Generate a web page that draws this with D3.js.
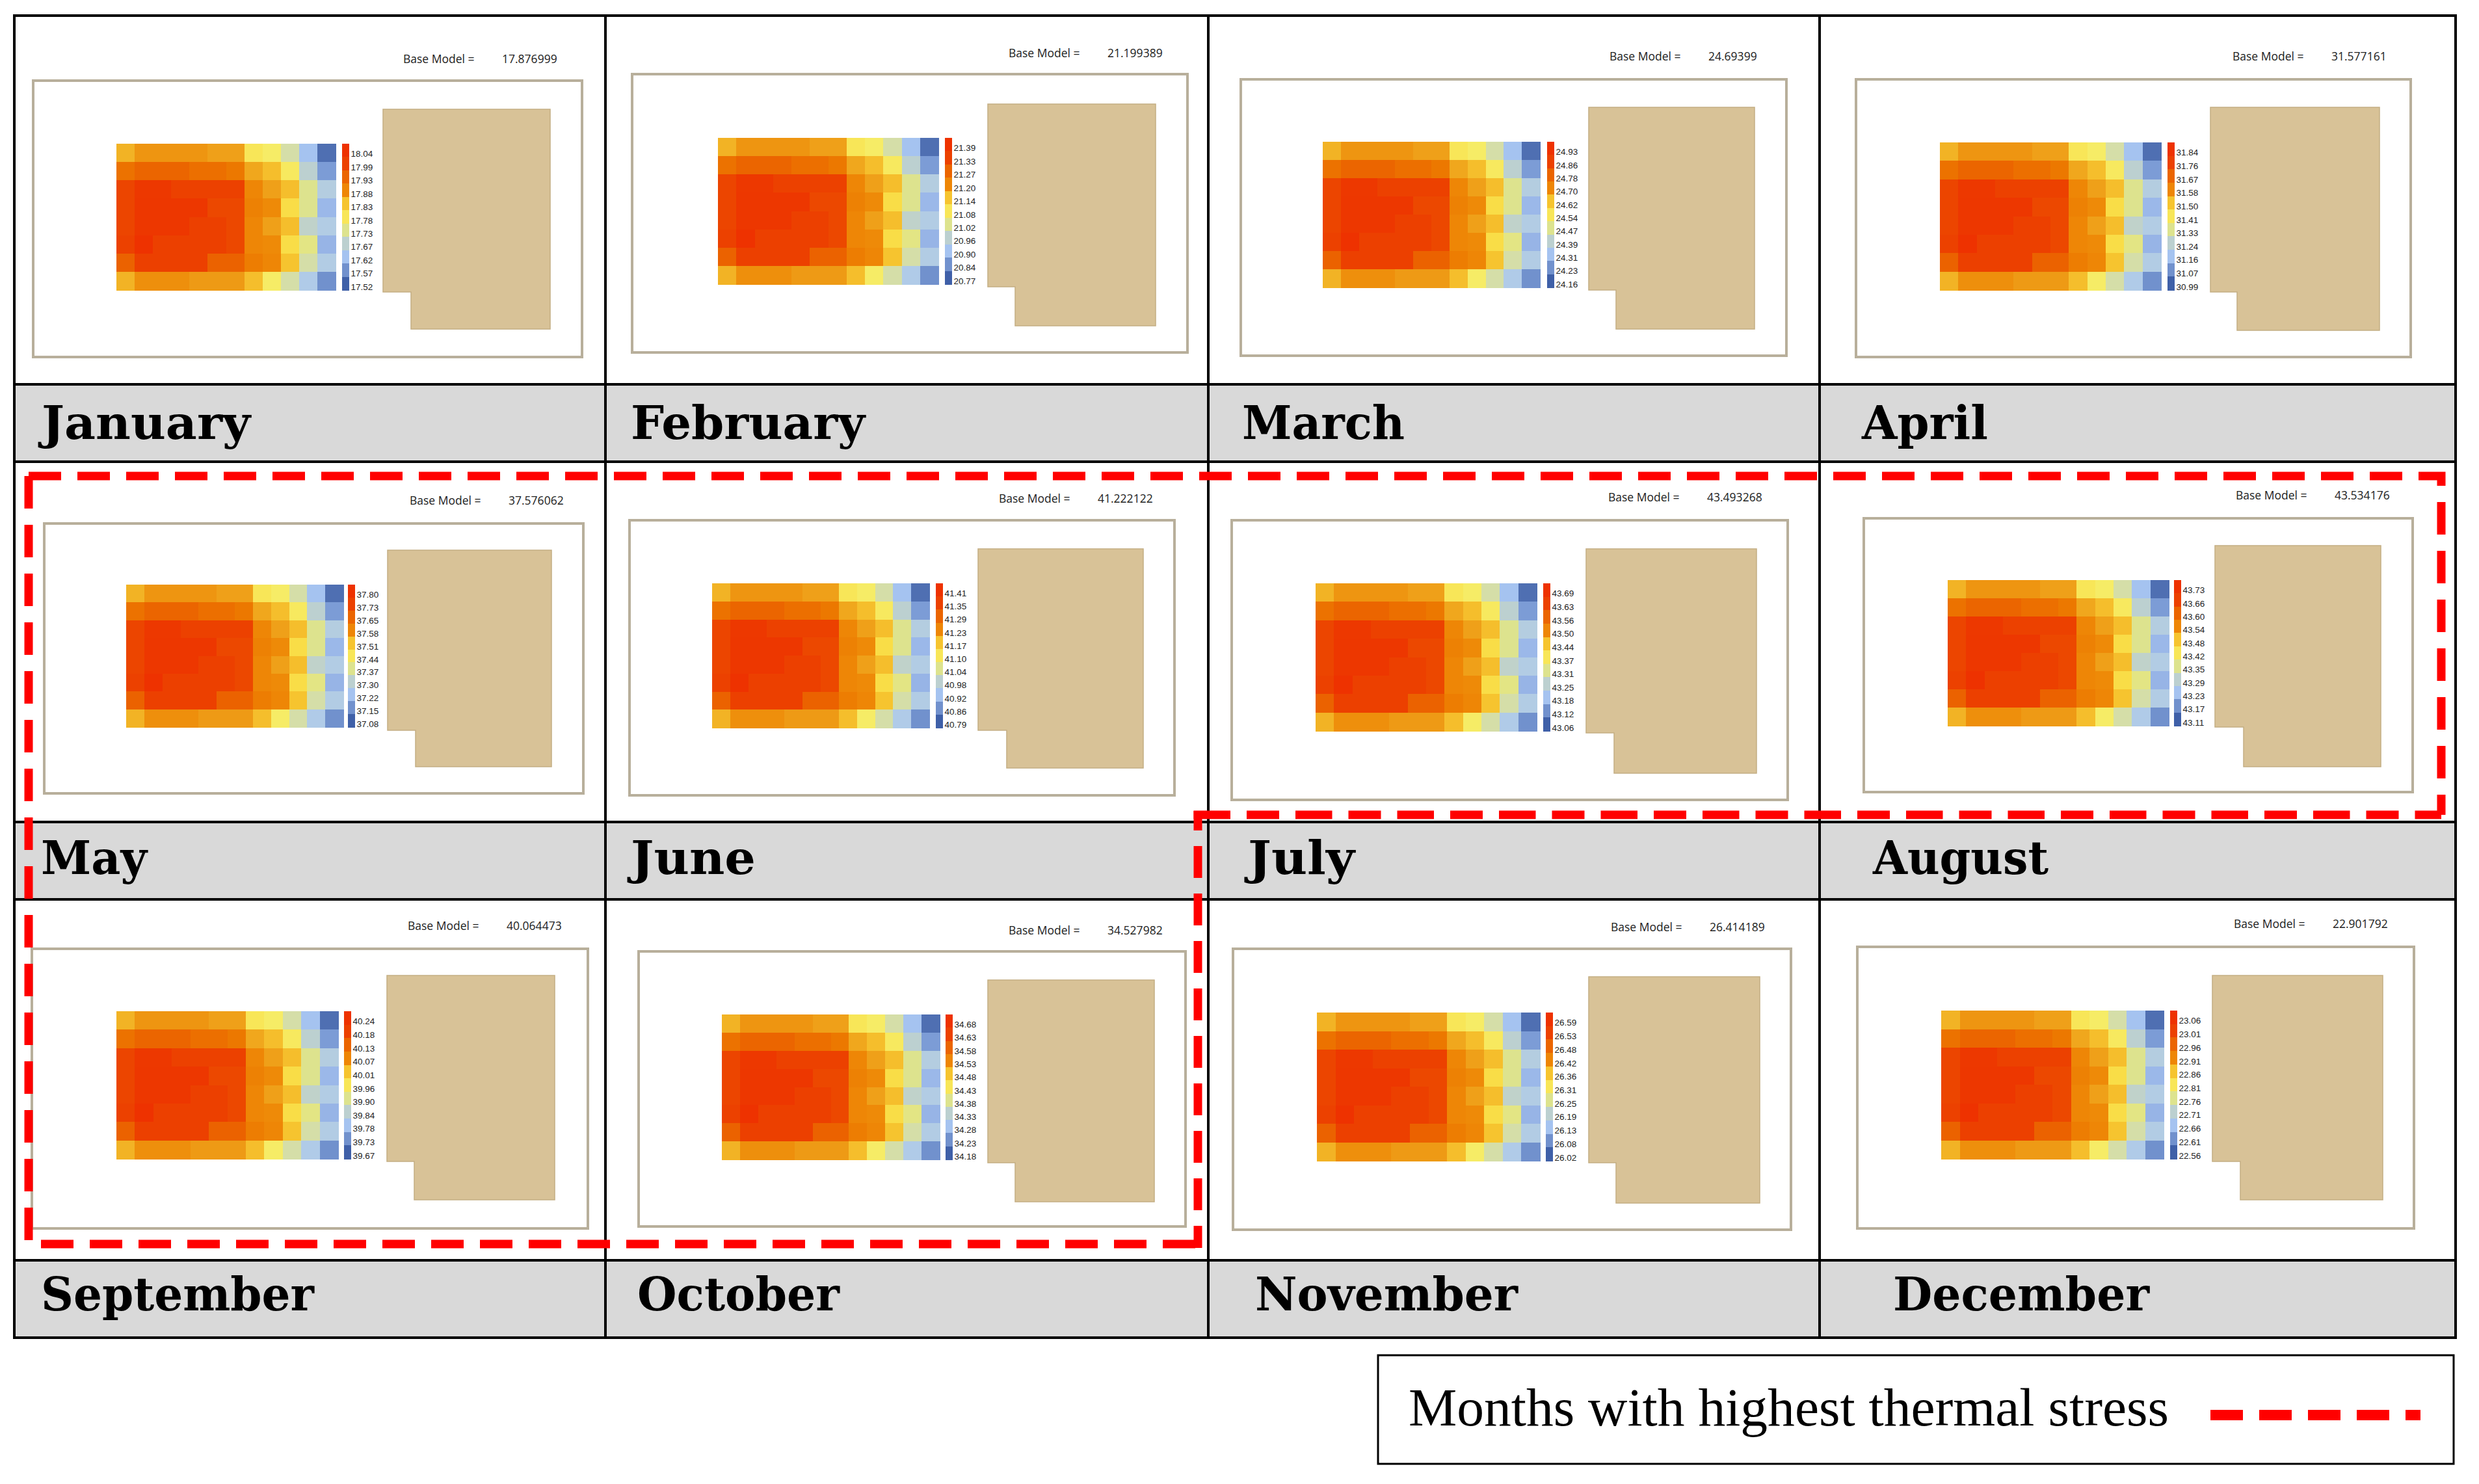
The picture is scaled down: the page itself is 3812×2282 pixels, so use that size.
<!DOCTYPE html>
<html><head><meta charset="utf-8">
<style>html,body{margin:0;padding:0;background:#fff}svg{display:block}</style>
<script src="https://cdn.jsdelivr.net/npm/d3@7"></script>
</head><body><svg id="c" width="3812" height="2282"></svg>
<script>
const months=["January","February","March","April","May","June","July","August","September","October","November","December"];
const baseModel=["17.876999","21.199389","24.69399","31.577161","37.576062","41.222122","43.493268","43.534176","40.064473","34.527982","26.414189","22.901792"];
const legendJan=["18.04","17.99","17.93","17.88","17.83","17.78","17.73","17.67","17.62","17.57","17.52"];
const legendFeb=["21.39","21.33","21.27","21.20","21.14","21.08","21.02","20.96","20.90","20.84","20.77"];
const legendMar=["24.93","24.86","24.78","24.70","24.62","24.54","24.47","24.39","24.31","24.23","24.16"];
const legendApr=["31.84","31.76","31.67","31.58","31.50","31.41","31.33","31.24","31.16","31.07","30.99"];
const legendMay=["37.80","37.73","37.65","37.58","37.51","37.44","37.37","37.30","37.22","37.15","37.08"];
const legendJun=["41.41","41.35","41.29","41.23","41.17","41.10","41.04","40.98","40.92","40.86","40.79"];
const legendJul=["43.69","43.63","43.56","43.50","43.44","43.37","43.31","43.25","43.18","43.12","43.06"];
const legendAug=["43.73","43.66","43.60","43.54","43.48","43.42","43.35","43.29","43.23","43.17","43.11"];
const legendSep=["40.24","40.18","40.13","40.07","40.01","39.96","39.90","39.84","39.78","39.73","39.67"];
const legendOct=["34.68","34.63","34.58","34.53","34.48","34.43","34.38","34.33","34.28","34.23","34.18"];
const legendNov=["26.59","26.53","26.48","26.42","26.36","26.31","26.25","26.19","26.13","26.08","26.02"];
const legendDec=["23.06","23.01","22.96","22.91","22.86","22.81","22.76","22.71","22.66","22.61","22.56"];
const legends=[legendJan,legendFeb,legendMar,legendApr,legendMay,legendJun,legendJul,legendAug,legendSep,legendOct,legendNov,legendDec];
// relative stress level of each cell, 0 (coolest class) to 10 (hottest class)
const row0=[6.3,6.8,6.8,6.8,6.8,6.6,6.6,5.0,4.8,3.7,2.0,0.3];
const row1=[7.6,8.0,8.0,8.0,7.7,7.7,7.4,6.5,6.1,4.9,3.0,1.2];
const row2=[8.9,9.6,9.6,9.0,9.0,9.0,9.0,7.1,6.6,6.1,4.0,2.6];
const row3=[8.9,9.7,9.7,9.7,9.7,8.8,8.8,7.2,7.0,5.3,4.0,1.7];
const row4=[8.9,9.7,9.7,9.7,9.1,9.1,8.8,7.1,6.6,6.1,3.1,2.5];
const row5=[9.0,10,9.1,9.1,9.1,9.1,8.8,7.1,7.0,5.3,4.2,1.6];
const row6=[8.1,9.1,9.1,9.1,9.1,8.1,8.1,7.3,7.1,6.0,3.7,2.5];
const row7=[6.3,6.9,6.9,6.9,6.7,6.7,6.7,6.1,4.8,3.7,2.4,1.0];
const stressRows=[row0,row1,row2,row3,row4,row5,row6,row7];
const legendLevels=[10,9,8,7.1,6,5,4,3,2,1,0];
const levelStops=[0,0.2,0.9,1.2,1.6,2,2.4,3,3.7,4,4.8,5.2,6,6.3,6.7,7,7.4,8.2,9,10];
const levelColors=["#3F60A8","#4A6AAE","#6B8CC8","#7C9CD6","#97B4E6","#A5C3F0","#B0CBE8","#BCD0D0","#D5DEA8","#DDE38E","#F6EC66","#F9E04A","#F6C42F","#F2B325","#EE9A15","#EE8A08","#EC7800","#EB5F00","#EC4100","#EE3200"];

// layout (pixels of the page), one entry per month
const frameBox=[[51,124,895,549],[972,114,1826,542],[1908,122,2747,547],[2854,122,3707,549],[68,805,897,1220],[968,800,1806,1223],[1894,800,2749,1230],[2866,797,3710,1218],[49,1459,904,1889],[982,1463,1823,1886],[1896,1459,2754,1891],[2856,1456,3712,1889]];
const buildingBox=[[589,168,846,506,632,449],[1519,160,1777,501,1561,441],[2443,165,2698,506,2485,446],[3399,165,3659,508,3440,449],[596,846,848,1179,639,1123],[1504,844,1758,1181,1548,1123],[2439,844,2701,1189,2482,1127],[3406,839,3661,1179,3450,1118],[595,1500,853,1845,637,1786],[1519,1507,1775,1848,1561,1788],[2443,1502,2706,1850,2485,1788],[3402,1500,3664,1845,3445,1786]];
const heatBox=[[179,516,221,446],[1104,1443,212,437],[2034,2368,218,442],[2983,3323,219,446],[194,528,899,1118],[1095,1429,897,1119],[2023,2363,897,1124],[2995,3335,892,1116],[179,520,1555,1782],[1110,1445,1560,1783],[2025,2368,1557,1785],[2985,3327,1554,1782]];
const barLeft=[526,1453,2379,3333,535,1439,2373,3343,529,1454,2377,3337];
const baseAt=[[620,97],[1551,88],[2475,93],[3433,93],[630,776],[1536,773],[2473,771],[3438,768],[627,1430],[1551,1437],[2477,1432],[3435,1427]];
const labelAt=[[64,675],[970,675],[1910,675],[2863,675],[63,1344],[970,1344],[1919,1344],[2880,1344],[63,2015],[980,2015],[1930,2015],[2911,2015]];
const labelWidth=[321,360,250,194,163,192,164,270,420,311,404,394];
const gridX=[22,931,1858,2798,3776], gridY=[24,591,710,1264,1383,1938,2057];

const svg=d3.select("#c");
const color=d3.scaleLinear().domain(levelStops).range(levelColors).clamp(true);
const cols=d3.range(row0.length), rows=d3.range(stressRows.length);

// caption bands
d3.range(3).forEach(i=>svg.append("rect").attr("x",gridX[0]).attr("width",gridX[4]-gridX[0]).attr("y",gridY[2*i+1]).attr("height",gridY[2*i+2]-gridY[2*i+1]).attr("fill","#D9D9D9"));
// panels
months.forEach((m,i)=>{
  const g=svg.append("g").attr("class","panel");
  const f=frameBox[i], b=buildingBox[i], h=heatBox[i];
  g.append("rect").attr("x",f[0]).attr("y",f[1]).attr("width",f[2]-f[0]).attr("height",f[3]-f[1]).attr("fill","#fff").attr("stroke","#B8AF9B").attr("stroke-width",4);
  g.append("path").attr("d",d3.line()([[b[0],b[1]],[b[2],b[1]],[b[2],b[3]],[b[4],b[3]],[b[4],b[5]],[b[0],b[5]]])+"Z").attr("fill","#D8C297").attr("stroke","#C4AE84").attr("stroke-width",1.5);
  const x=d3.scaleBand().domain(cols).range([h[0],h[1]]);
  const y=d3.scaleBand().domain(rows).range([h[2],h[3]]);
  const cells=stressRows.flatMap((r,ri)=>r.map((v,ci)=>({ri,ci,v})));
  g.selectAll("rect.cell").data(cells).join("rect").attr("class","cell")
    .attr("x",d=>x(d.ci)).attr("y",d=>y(d.ri)).attr("width",x.bandwidth()+.5).attr("height",y.bandwidth()+.5).attr("fill",d=>color(d.v)).attr("shape-rendering","crispEdges");
  const ly=d3.scaleBand().domain(d3.range(11)).range([h[2],h[3]]);
  g.selectAll("rect.key").data(legendLevels).join("rect").attr("class","key")
    .attr("x",barLeft[i]).attr("y",(d,k)=>ly(k)).attr("width",10.5).attr("height",ly.bandwidth()+.5).attr("fill",d=>color(d)).attr("shape-rendering","crispEdges");
  g.selectAll("text.tick").data(legends[i]).join("text").attr("class","tick")
    .attr("x",barLeft[i]+13.5).attr("y",(d,k)=>ly(k)+ly.bandwidth()/2+10)
    .attr("font-family","Liberation Sans").attr("font-size",13.5).attr("fill","#222").text(d=>d);
  g.append("text").attr("x",baseAt[i][0]).attr("y",baseAt[i][1]).attr("font-family","Open Sans").attr("font-size",17.5).attr("fill","#222").text("Base Model =");
  g.append("text").attr("x",baseAt[i][0]+152).attr("y",baseAt[i][1]).attr("font-family","Open Sans").attr("font-size",17.5).attr("fill","#222").text(baseModel[i]);
  svg.append("text").attr("x",labelAt[i][0]).attr("y",labelAt[i][1]).attr("font-family","DejaVu Serif").attr("font-weight","bold").attr("font-size",71).attr("fill","#000")
    .attr("textLength",labelWidth[i]).attr("lengthAdjust","spacingAndGlyphs").text(m);
});
// grid
gridX.forEach(v=>svg.append("line").attr("x1",v).attr("x2",v).attr("y1",gridY[0]-2).attr("y2",gridY[6]+2).attr("stroke","#000").attr("stroke-width",4));
gridY.forEach(v=>svg.append("line").attr("y1",v).attr("y2",v).attr("x1",gridX[0]-2).attr("x2",gridX[4]+2).attr("stroke","#000").attr("stroke-width",4));
// highlight outline
const redRuns=[
  {pts:[[44,732],[3754,732],[3754,1253]],dash:"50 25",off:0},
  {pts:[[44,732],[44,1913],[1842,1913]],dash:"50 25",off:0},
  {pts:[[1835.5,1253],[3754,1253]],dash:"56.5 25 50 25",off:0},
  {pts:[[1842,1247],[1842,1919]],dash:"49 24",off:19}
];
redRuns.forEach(r=>svg.append("path").attr("d",d3.line()(r.pts)).attr("fill","none").attr("stroke","#FF0000").attr("stroke-width",13).attr("stroke-dasharray",r.dash).attr("stroke-dashoffset",r.off).attr("stroke-linejoin","miter"));
// key box
svg.append("rect").attr("x",2119).attr("y",2084).attr("width",1654).attr("height",167).attr("fill","#fff").attr("stroke","#000").attr("stroke-width",3);
svg.append("text").attr("x",2166).attr("y",2192).attr("font-family","Liberation Serif").attr("font-size",82).attr("textLength",1169).attr("lengthAdjust","spacingAndGlyphs").attr("fill","#000").text("Months with highest thermal stress");
svg.append("line").attr("x1",3399).attr("x2",3722).attr("y1",2176).attr("y2",2176).attr("stroke","#FF0000").attr("stroke-width",16).attr("stroke-dasharray","50 25");
</script></body></html>
